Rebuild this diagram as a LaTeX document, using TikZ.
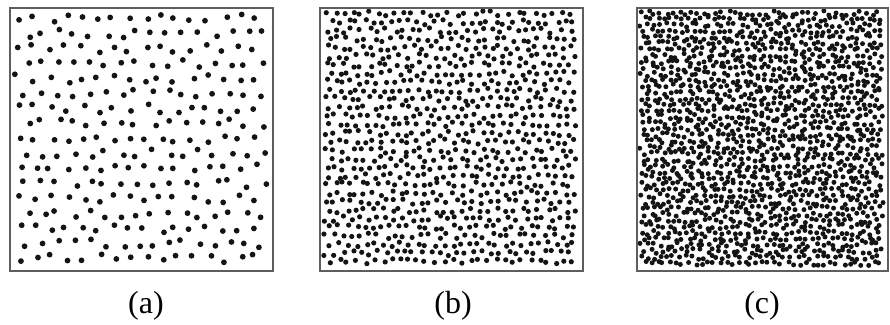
\documentclass[tikz,border=0pt]{standalone}
\usepackage{fontspec}
\setmainfont{Liberation Serif}
\definecolor{Frame}{HTML}{5E5E5E}
\definecolor{Dot}{HTML}{141414}

\begin{document}
\begin{tikzpicture}[x=1pt,y=-1pt]
        \pgfmathsetseed{4711}
        \useasboundingbox(0,0)rectangle(890,324);
        \foreach\i in{0,...,15}\foreach\j in{0,...,16}
          \fill[Dot]({19+15.7*\i+7.85*mod(\j,2)+4.3*rand},{18.5+15*\j+4.3*rand})circle(2.9pt);
        \foreach\i in{0,...,28}\foreach\j in{0,...,29}
          \fill[Dot]({326+8.7*\i+4.35*mod(\j,2)+2.7*rand},{13.5+8.55*\j+2.7*rand})circle(2.6pt);
        \foreach\i in{0,...,38}\foreach\j in{0,...,41}
          \fill[Dot]({642+6.2*\i+3.1*mod(\j,2)+2.4*rand},{13+6.1*\j+2.4*rand})circle(2.5pt);
        \draw[Frame,line width=1.3](10,8)rectangle(273,271);
        \draw[Frame,line width=1.3](320,8)rectangle(583,271);
        \draw[Frame,line width=1.3](637,8)rectangle(888,271);
        \node[font=\fontsize{32}{38}\selectfont](labA)at(146,306){(a)};
        \node[font=\fontsize{32}{38}\selectfont](labB)at(453,306){(b)};
        \node[font=\fontsize{32}{38}\selectfont](labC)at(762,306){(c)};
      \end{tikzpicture}
\end{document}
